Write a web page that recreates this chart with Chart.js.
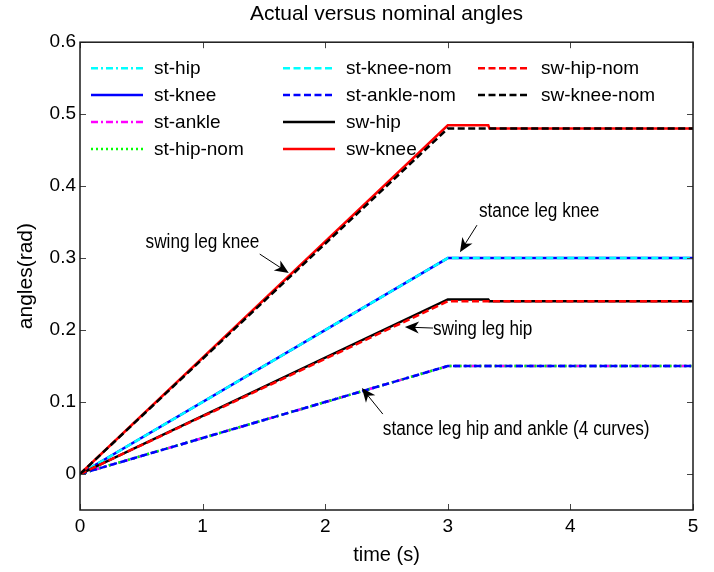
<!DOCTYPE html>
<html>
<head>
<meta charset="utf-8">
<script src="https://cdn.jsdelivr.net/npm/chart.js@4"></script>
<style>
html, body { margin: 0; padding: 0; background: #fff; }
</style>
</head>
<body>
<canvas id="anglesChart" width="714" height="572"></canvas>
<script>
document.addEventListener("DOMContentLoaded", function () {

/* ================================
   DATA
================================ */

const tRamp = [0, 3, 5];
const tBump = [0, 3, 3.33, 3.34, 5];

const stHip      = [0, 0.150, 0.150];
const stKnee     = [0, 0.300, 0.300];
const stAnkle    = [0, 0.150, 0.150];
const stHipNom   = [0, 0.150, 0.150];
const stKneeNom  = [0, 0.300, 0.300];
const stAnkleNom = [0, 0.150, 0.150];
const swHip      = [0, 0.2425, 0.2425, 0.240, 0.240];
const swKnee     = [0, 0.4845, 0.4845, 0.480, 0.480];
const swHipNom   = [0, 0.240, 0.240];
const swKneeNom  = [0, 0.480, 0.480];

const xTicks = [0, 1, 2, 3, 4, 5];
const yTicks = [0, 0.1, 0.2, 0.3, 0.4, 0.5, 0.6];

const noteText  = ["swing leg knee", "stance leg knee", "swing leg hip", "stance leg hip and ankle (4 curves)"];
const noteAt    = [[0.535, 0.3236], [3.254, 0.3667], [2.879, 0.2028], [2.470, 0.0639]];
const arrowFrom = [[1.466, 0.3056], [3.238, 0.3458], [2.879, 0.2028], [2.470, 0.0833]];
const arrowTo   = [[1.703, 0.2792], [3.099, 0.3083], [2.650, 0.2042], [2.299, 0.1194]];

function pts(t, v) {
  return t.map(function (x, i) { return {x: x, y: v[i]}; });
}

const FONT = "'Liberation Sans', Arial, Helvetica, sans-serif";
Chart.defaults.font.family = FONT;
Chart.defaults.color = "#000";

const DASH = [7, 3.5];
const DASHDOT = [7, 3, 2, 3];
const DOT = [2, 3];

let seriesCount = 0;
function series(label, t, v, color, dash) {
  seriesCount++;
  return {
    label: label,
    data: pts(t, v),
    borderColor: color,
    backgroundColor: color,
    borderWidth: 2.5,
    borderDash: dash,
    pointRadius: 0,
    tension: 0,
    fill: false,
    order: 100 - seriesCount   // later series painted on top, as in the original
  };
}

/* ================================
   PLUGINS
================================ */

// legend inside the axes, column-major, no box
const boxLegend = {
  id: "boxLegend",
  beforeDatasetsDraw: function (chart) {
    const ctx = chart.ctx;
    const a = chart.chartArea;
    const colX = [11, 203, 398];
    ctx.save();
    chart.data.datasets.forEach(function (ds, i) {
      const col = Math.floor(i / 4), row = i % 4;
      const x = a.left + colX[col];
      const y = a.top + 26 + row * 26.9;
      ctx.strokeStyle = ds.borderColor;
      ctx.lineWidth = ds.borderWidth;
      ctx.setLineDash(ds.borderDash || []);
      ctx.beginPath();
      ctx.moveTo(x, y);
      ctx.lineTo(x + 52, y);
      ctx.stroke();
      ctx.setLineDash([]);
      ctx.fillStyle = "#000";
      ctx.font = "19px " + FONT;
      ctx.textBaseline = "middle";
      ctx.fillText(ds.label, x + 63, y + 1);
    });
    ctx.restore();
  }
};

function drawArrow(ctx, x0, y0, x1, y1) {
  const ang = Math.atan2(y1 - y0, x1 - x0);
  const len = 14, half = 6, notch = 4;
  ctx.beginPath();
  ctx.moveTo(x0, y0);
  ctx.lineTo(x1 - Math.cos(ang) * notch * 2, y1 - Math.sin(ang) * notch * 2);
  ctx.stroke();
  ctx.save();
  ctx.translate(x1, y1);
  ctx.rotate(ang);
  ctx.beginPath();
  ctx.moveTo(0, 0);
  ctx.lineTo(-len, -half);
  ctx.lineTo(-len + notch, 0);
  ctx.lineTo(-len, half);
  ctx.closePath();
  ctx.fill();
  ctx.restore();
}

// axes box with inward ticks, plus text notes and arrows
const matlabAxes = {
  id: "matlabAxes",
  afterDatasetsDraw: function (chart) {
    const ctx = chart.ctx;
    const a = chart.chartArea;
    const xs = chart.scales.x, ys = chart.scales.y;
    ctx.save();

    ctx.strokeStyle = "#444";
    ctx.lineWidth = 1;
    xTicks.forEach(function (t) {
      const px = Math.round(xs.getPixelForValue(t)) + 0.5;
      ctx.beginPath();
      ctx.moveTo(px, a.bottom); ctx.lineTo(px, a.bottom - 6);
      ctx.moveTo(px, a.top); ctx.lineTo(px, a.top + 6);
      ctx.stroke();
    });
    yTicks.forEach(function (v) {
      const py = Math.round(ys.getPixelForValue(v)) + 0.5;
      ctx.beginPath();
      ctx.moveTo(a.left, py); ctx.lineTo(a.left + 6, py);
      ctx.moveTo(a.right, py); ctx.lineTo(a.right - 6, py);
      ctx.stroke();
    });

    ctx.strokeStyle = "#1a1a1a";
    ctx.lineWidth = 1.5;
    ctx.strokeRect(a.left, a.top, a.right - a.left, a.bottom - a.top);

    ctx.fillStyle = "#000";
    ctx.strokeStyle = "#000";
    ctx.lineWidth = 1;
    noteText.forEach(function (txt, i) {
      drawArrow(ctx,
        xs.getPixelForValue(arrowFrom[i][0]), ys.getPixelForValue(arrowFrom[i][1]),
        xs.getPixelForValue(arrowTo[i][0]), ys.getPixelForValue(arrowTo[i][1]));
      ctx.save();
      ctx.translate(xs.getPixelForValue(noteAt[i][0]), ys.getPixelForValue(noteAt[i][1]));
      ctx.scale(0.86, 1);
      ctx.font = "20px " + FONT;
      ctx.textBaseline = "middle";
      ctx.fillText(txt, 0, 1);
      ctx.restore();
    });

    ctx.restore();
  }
};

/* ================================
   LINE CHART
================================ */

const ctx = document.getElementById("anglesChart").getContext("2d");

new Chart(ctx, {

type: "line",

data: {
datasets: [
  series("st-hip",       tRamp, stHip,      "#00ffff", DASHDOT),
  series("st-knee",      tRamp, stKnee,     "#0000ff", []),
  series("st-ankle",     tRamp, stAnkle,    "#ff00ff", DASHDOT),
  series("st-hip-nom",   tRamp, stHipNom,   "#00ff00", DOT),
  series("st-knee-nom",  tRamp, stKneeNom,  "#00ffff", DASH),
  series("st-ankle-nom", tRamp, stAnkleNom, "#0000ff", DASH),
  series("sw-hip",       tBump, swHip,      "#000000", []),
  series("sw-knee",      tBump, swKnee,     "#ff0000", []),
  series("sw-hip-nom",   tRamp, swHipNom,   "#ff0000", DASH),
  series("sw-knee-nom",  tRamp, swKneeNom,  "#000000", DASH)
]
},

options: {
responsive: false,
animation: false,
layout: { padding: { left: 0, right: 21, top: 0, bottom: 0 } },

plugins: {
legend: { display: false },
tooltip: { enabled: false },
title: {
  display: true,
  text: "Actual versus nominal angles",
  fullSize: false,
  color: "#000",
  font: { size: 21, weight: "normal" },
  padding: { top: 2, bottom: 15 }
}
},

scales: {
x: {
  type: "linear",
  min: 0,
  max: 5,
  afterBuildTicks: function (s) { s.ticks = xTicks.map(function (v) { return {value: v}; }); },
  afterFit: function (s) { s.height = 62; },
  ticks: { color: "#000", font: { size: 19 }, padding: 5, maxRotation: 0 },
  grid: { display: false, drawTicks: false },
  border: { display: false },
  title: { display: true, text: "time (s)", color: "#000", font: { size: 20 }, padding: { top: 0, bottom: 5 } }
},

y: {
  type: "linear",
  min: -0.05,
  max: 0.6,
  afterBuildTicks: function (s) { s.ticks = yTicks.map(function (v) { return {value: v}; }); },
  afterFit: function (s) { s.width = 80; },
  ticks: {
    color: "#000",
    font: { size: 19 },
    padding: 4,
    callback: function (v) { return String(Number(v.toFixed(1))); }
  },
  grid: { display: false, drawTicks: false },
  border: { display: false },
  title: { display: true, text: "angles(rad)", color: "#000", font: { size: 21 }, padding: { top: 14, bottom: 0 } }
}
}
},

plugins: [boxLegend, matlabAxes]

});

});
</script>
</body>
</html>
